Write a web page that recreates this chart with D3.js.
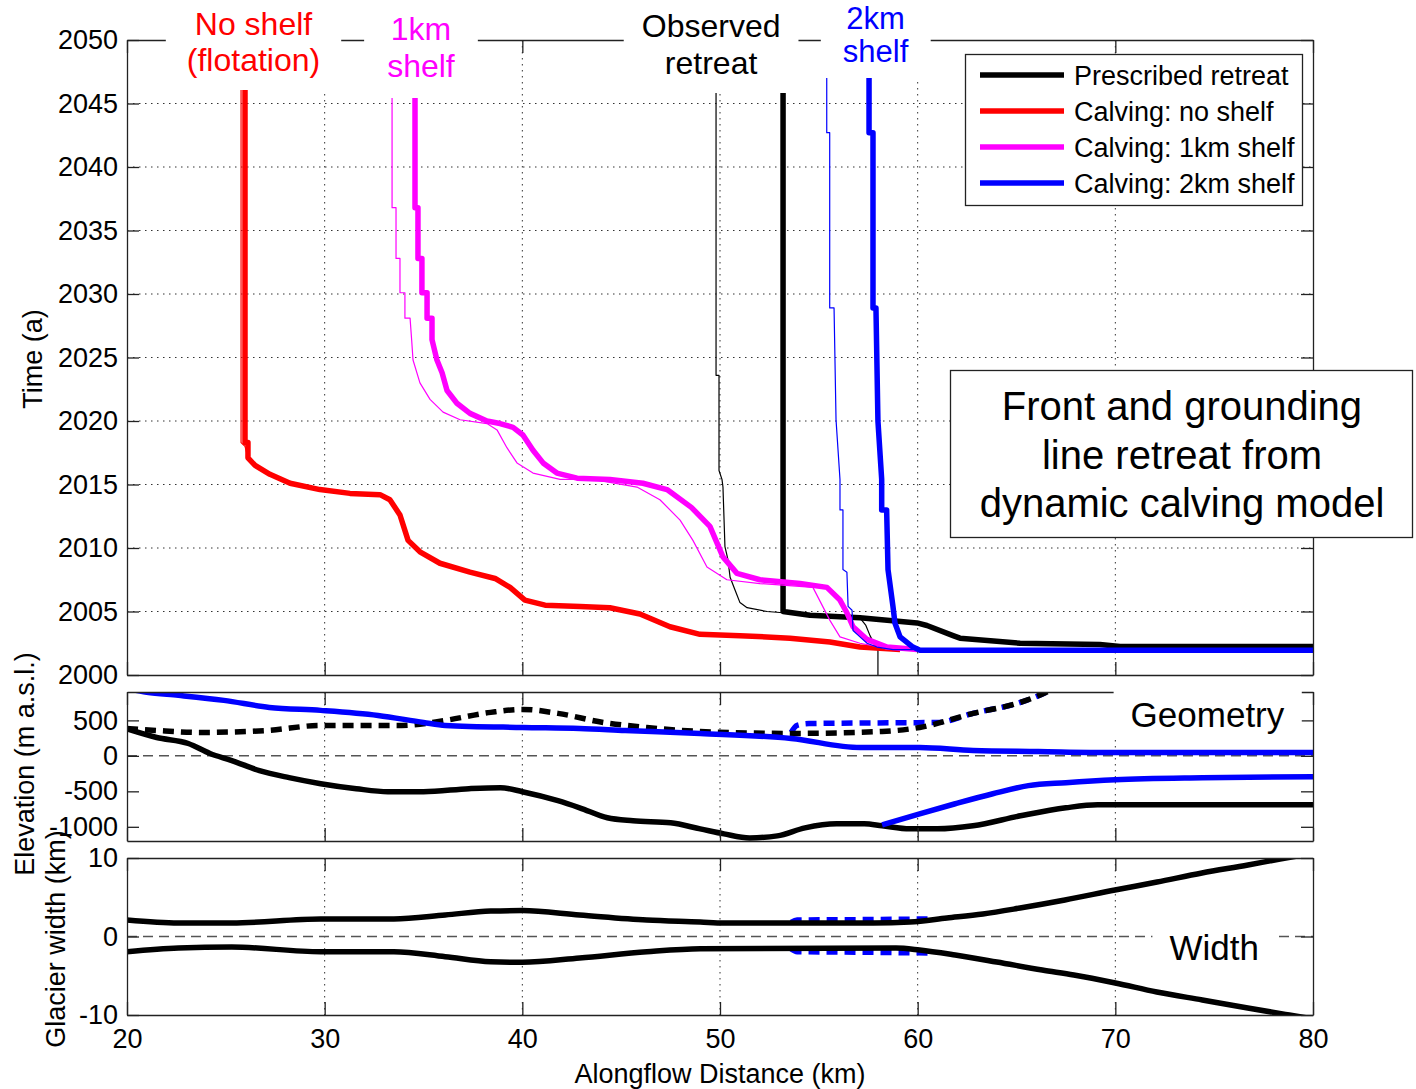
<!DOCTYPE html>
<html>
<head>
<meta charset="utf-8">
<script src="https://cdn.jsdelivr.net/npm/d3@7"></script>
<style>
  body { margin: 0; background: #fff; }
  svg text { font-family: "Liberation Sans", Arial, Helvetica, sans-serif; }
</style>
</head>
<body>
<svg id="chart" width="1416" height="1089"></svg>
<script>
// ---- tick values ----
const xTicks = [20, 30, 40, 50, 60, 70, 80];
const timeTicks = [2000, 2005, 2010, 2015, 2020, 2025, 2030, 2035, 2040, 2045, 2050];
const elevTicks = [-1000, -500, 0, 500];
const widthTicks = [-10, 0, 10];

// ---- top panel: [distance km, year] ----
const observedRetreat = [[49.8,2050],[49.8,2023.6],[49.95,2023.6],[49.95,2016.1],[50.1,2015.4],[50.15,2014.8],[50.25,2010.1],[50.4,2009.1],[50.51,2007.7],[50.76,2006.7],[51.01,2005.7],[51.37,2005.3],[52.38,2005.0],[53.19,2004.9],[57.08,2004.5],[57.38,2003.9],[57.59,2003.1],[57.84,2002.3],[57.99,2002.0],[57.99,2000]];
const prescribedRetreat = [[53.19,2050],[53.19,2005.0],[54.55,2004.7],[57.08,2004.5],[59.97,2004.1],[60.47,2003.9],[61.79,2003.1],[62.14,2002.9],[65.18,2002.5],[69.22,2002.4],[70.24,2002.25],[80,2002.25]];
const noShelfGrounding = [[25.77,2050],[25.77,2018.3],[25.97,2018.0],[26.12,2017.1],[26.48,2016.5]];
const noShelfFront = [[25.97,2050],[25.97,2018.3],[26.12,2018.3],[26.12,2017.1],[26.48,2016.5],[27.23,2015.8],[28.25,2015.1],[29.76,2014.6],[31.28,2014.3],[32.8,2014.2],[33.3,2013.8],[33.81,2012.6],[34.22,2010.6],[34.82,2009.7],[35.83,2008.8],[37.35,2008.1],[38.62,2007.6],[39.38,2006.9],[40.13,2005.9],[41.15,2005.5],[42.92,2005.4],[44.43,2005.3],[45.95,2004.8],[47.47,2003.8],[48.99,2003.2],[51.01,2003.1],[53.54,2002.9],[55.56,2002.6],[57.08,2002.2],[59.11,2002.0]];
const shelf1Grounding = [[33.41,2050],[33.41,2036.8],[33.61,2036.8],[33.61,2032.8],[33.81,2032.8],[33.81,2030.1],[34.06,2030.1],[34.06,2028.1],[34.32,2028.1],[34.4,2026.4],[34.47,2024.8],[34.82,2023.0],[35.33,2021.7],[35.99,2020.7],[36.85,2020.1],[38.21,2019.8],[38.72,2019.3],[39.22,2017.9],[39.73,2016.7],[40.54,2015.9],[41.91,2015.4],[43.57,2015.4],[45.8,2014.8],[46.96,2013.8],[47.98,2012.2],[48.63,2010.6],[49.34,2008.5],[50.35,2007.5],[52.02,2007.2],[54.7,2006.9],[55.56,2004.3],[56.07,2003.0],[57.08,2002.5],[58.45,2002.1],[59.97,2002.0]];
const shelf1Front = [[34.57,2050],[34.57,2036.8],[34.72,2036.8],[34.72,2032.8],[34.92,2032.8],[34.92,2030.1],[35.18,2030.1],[35.18,2028.1],[35.43,2028.1],[35.43,2026.4],[35.68,2024.8],[35.94,2023.8],[36.19,2022.4],[36.69,2021.4],[37.35,2020.6],[38.21,2020.0],[38.87,2019.8],[39.53,2019.5],[40.03,2018.9],[40.54,2017.7],[41.05,2016.7],[41.75,2015.9],[42.77,2015.5],[44.43,2015.4],[46.1,2015.1],[47.32,2014.6],[48.55,2013.2],[49.49,2011.7],[50.15,2009.3],[50.86,2008.0],[52.02,2007.5],[54.05,2007.2],[55.41,2006.9],[56.07,2005.9],[56.42,2004.9],[56.73,2003.8],[57.44,2002.8],[58.45,2002.2],[59.97,2002.0]];
const shelf2Grounding = [[55.4,2050],[55.4,2042.7],[55.55,2042.7],[55.55,2028.9],[55.77,2028.9],[55.87,2020.1],[56.07,2015.4],[56.07,2013.0],[56.22,2013.0],[56.22,2008.3],[56.42,2008.1],[56.48,2005.4],[56.68,2005.1],[56.73,2003.5],[57.08,2003.0],[57.44,2002.5],[57.94,2002.2],[58.75,2002.0],[59.76,2002.0]];
const shelf2Front = [[57.54,2050],[57.54,2042.7],[57.74,2042.7],[57.74,2028.9],[57.89,2028.9],[57.99,2020],[58.18,2015.4],[58.18,2013.0],[58.43,2013.0],[58.5,2008.3],[58.75,2005.4],[58.85,2004.1],[59.11,2003.0],[59.76,2002.2],[60.12,2001.95],[80,2001.95]];

// ---- geometry panel: [distance km, elevation m] ----
const bedElevation = [[20,380],[21.5,259],[23.1,174],[24.2,33],[25.3,-66],[26.7,-208],[28.2,-307],[29.8,-392],[31.6,-463],[33.2,-505],[35,-505],[37.3,-463],[38.9,-449],[40,-505],[41.8,-632],[42.9,-732],[44.3,-873],[45.6,-916],[47.5,-944],[49,-1029],[50.2,-1099],[51.5,-1156],[52.9,-1128],[54.3,-1015],[55.9,-958],[57.3,-958],[58.2,-986],[59.6,-1029],[61,-1029],[62.8,-986],[65.2,-845],[67.5,-732],[69.1,-689],[80,-689]];
const initialSurface = [[20,386],[21.5,358],[23.7,330],[27.1,358],[29.8,429],[33.9,429],[36.1,500],[38.4,613],[40,655],[41.8,599],[44.1,471],[46.3,400],[49,344],[53.6,316],[58.2,344],[60.1,400],[62.8,599],[65.2,754],[66.5,896],[68,1150]];
const shelfSurfaceStart = [[53.6,330],[53.9,430],[54.5,455],[57,462],[60,468],[61,470],[62.8,599],[65.2,754],[66.5,896],[68,1150]];
const finalSurface = [[20,950],[21,896],[22.6,853],[24.9,782],[27.2,683],[29.8,641],[32.7,570],[35,471],[36.1,429],[40,400],[42.9,386],[45.2,358],[49,316],[53.6,245],[57.1,117],[60.1,117],[62.8,75],[66.1,61],[69.8,47],[80,47]];
const shelfBase = [[58.2,-972],[60.1,-817],[61.9,-675],[63.8,-534],[65.6,-420],[67.5,-378],[70,-336],[74.4,-307],[80,-293]];

// ---- width panel: [distance km, half-width km] ----
const widthNorth = [[20,2.1],[22.6,1.72],[25.3,1.72],[29.8,2.23],[33.5,2.23],[36.1,2.74],[38.4,3.25],[40,3.3],[42.9,2.74],[46.3,2.1],[49,1.85],[50.2,1.72],[57.74,1.72],[59.61,1.85],[61.48,2.36],[63.3,2.87],[65.18,3.63],[67.45,4.65],[69.98,5.92],[72.11,6.94],[74.38,8.09],[76.71,9.11],[78.33,9.87],[80,10.6]];
const widthSouth = [[20,-1.94],[22.6,-1.46],[25.3,-1.34],[29.8,-1.94],[33.5,-1.94],[36.1,-2.57],[38.4,-3.21],[40,-3.29],[42.9,-2.74],[46.3,-1.94],[49,-1.55],[58.9,-1.46],[60.1,-1.72],[61.9,-2.36],[64,-3.25],[66.3,-4.27],[67.9,-4.9],[70,-5.92],[72.1,-7.07],[74.4,-8.09],[76.7,-9.11],[78.8,-10],[80,-10.5]];
const shelfWidthNorth = [[53.6,1.8],[53.9,2.1],[57,2.15],[60.5,2.23]];
const shelfWidthSouth = [[53.6,-1.6],[53.9,-1.94],[57,-2.0],[60.5,-2.1]];

// ---- legend ----
const legendLabels = ["Prescribed retreat", "Calving: no shelf", "Calving: 1km shelf", "Calving: 2km shelf"];
const legendColors = ["#000000", "#ff0000", "#ff00ff", "#0000ff"];

const svg = d3.select("#chart");
const left = 127, right = 1313;
const x = d3.scaleLinear().domain([20, 80]).range([left, right]);
const yTime = d3.scaleLinear().domain([2000, 2050]).range([675, 40]);
const yElev = d3.scaleLinear().domain([-1200, 900]).range([841, 692]);
const yWidth = d3.scaleLinear().domain([-10, 10]).range([1015, 858]);

const THICK = 5.5, THIN = 1.2;

// clip paths per panel
const defs = svg.append("defs");
function makeClip(id, ys) {
  const [yb, yt] = ys.range();
  defs.append("clipPath").attr("id", id).append("rect")
    .attr("x", left).attr("y", yt).attr("width", right - left).attr("height", yb - yt);
}
makeClip("clipTime", yTime);
makeClip("clipElev", yElev);
makeClip("clipWidth", yWidth);

// dotted grid
function drawGrid(ys, hTicks) {
  const [yb, yt] = ys.range();
  const g = svg.append("g");
  g.selectAll("line.v").data(xTicks.slice(1, -1)).join("line")
    .attr("x1", d => x(d)).attr("x2", d => x(d))
    .attr("y1", yt).attr("y2", yb)
    .attr("stroke", "#333").attr("stroke-width", 1)
    .attr("stroke-dasharray", "1.5,4.5");
  g.selectAll("line.h").data(hTicks).join("line")
    .attr("x1", left).attr("x2", right)
    .attr("y1", d => ys(d)).attr("y2", d => ys(d))
    .attr("stroke", "#333").attr("stroke-width", 1)
    .attr("stroke-dasharray", "1.5,4.5");
}
drawGrid(yTime, timeTicks.slice(1, -1));
drawGrid(yElev, []);
drawGrid(yWidth, []);

// zero lines
function zeroLine(ys) {
  svg.append("line")
    .attr("x1", left).attr("x2", right)
    .attr("y1", ys(0)).attr("y2", ys(0))
    .attr("stroke", "#555").attr("stroke-width", 1.5)
    .attr("stroke-dasharray", "10,6");
}
zeroLine(yElev);
zeroLine(yWidth);

// series
function drawSeries(g, data, ys, color, width, dash, smooth) {
  const line = d3.line().x(d => x(d[0])).y(d => ys(d[1]))
    .curve(smooth ? d3.curveMonotoneX : d3.curveLinear);
  g.append("path").datum(data)
    .attr("d", line)
    .attr("fill", "none")
    .attr("stroke", color)
    .attr("stroke-width", width)
    .attr("stroke-linejoin", "round")
    .attr("stroke-dasharray", dash || null);
}

const gTime = svg.append("g").attr("clip-path", "url(#clipTime)");
drawSeries(gTime, observedRetreat, yTime, "#000", THIN);
drawSeries(gTime, prescribedRetreat, yTime, "#000", THICK);
drawSeries(gTime, noShelfGrounding, yTime, "#ff0000", THIN);
drawSeries(gTime, noShelfFront, yTime, "#ff0000", THICK);
drawSeries(gTime, shelf1Grounding, yTime, "#ff00ff", THIN);
drawSeries(gTime, shelf1Front, yTime, "#ff00ff", THICK);
drawSeries(gTime, shelf2Grounding, yTime, "#0000ff", THIN);
drawSeries(gTime, shelf2Front, yTime, "#0000ff", THICK);

const gElev = svg.append("g").attr("clip-path", "url(#clipElev)");
drawSeries(gElev, shelfSurfaceStart, yElev, "#0000ff", THICK, "11,7", true);
drawSeries(gElev, initialSurface, yElev, "#000", THICK, "11,7", true);
drawSeries(gElev, bedElevation, yElev, "#000", THICK, null, true);
drawSeries(gElev, finalSurface, yElev, "#0000ff", THICK, null, true);
drawSeries(gElev, shelfBase, yElev, "#0000ff", THICK, null, true);

const gWidth = svg.append("g").attr("clip-path", "url(#clipWidth)");
drawSeries(gWidth, shelfWidthNorth, yWidth, "#0000ff", THICK, "11,7", true);
drawSeries(gWidth, shelfWidthSouth, yWidth, "#0000ff", THICK, "11,7", true);
drawSeries(gWidth, widthNorth, yWidth, "#000", THICK, null, true);
drawSeries(gWidth, widthSouth, yWidth, "#000", THICK, null, true);

// axes frames with inward ticks on all four sides
function styleAxis(a) {
  a.attr("font-family", '"Liberation Sans", Arial, Helvetica, sans-serif').attr("font-size", 27);
  a.selectAll("path.domain").attr("stroke", "#222").attr("stroke-width", 1.3);
  a.selectAll(".tick line").attr("stroke", "#222").attr("stroke-width", 1.3);
  a.selectAll(".tick text").attr("fill", "#000");
}
function drawFrame(ys, yTicks, showX) {
  const [yb, yt] = ys.range();
  const g = svg.append("g");
  g.append("g").attr("transform", `translate(${left},0)`)
    .call(d3.axisLeft(ys).tickValues(yTicks).tickSize(-12).tickSizeOuter(0).tickPadding(9).tickFormat(d => String(d)))
    .call(styleAxis);
  g.append("g").attr("transform", `translate(${right},0)`)
    .call(d3.axisRight(ys).tickValues(yTicks).tickSize(-12).tickSizeOuter(0).tickFormat(""))
    .call(styleAxis);
  g.append("g").attr("transform", `translate(0,${yb})`)
    .call(d3.axisBottom(x).tickValues(xTicks).tickSize(-13).tickSizeOuter(0).tickPadding(14).tickFormat(showX ? (d => String(d)) : ""))
    .call(styleAxis);
  g.append("g").attr("transform", `translate(0,${yt})`)
    .call(d3.axisTop(x).tickValues(xTicks).tickSize(-13).tickSizeOuter(0).tickFormat(""))
    .call(styleAxis);
}
drawFrame(yTime, timeTicks, false);
drawFrame(yElev, elevTicks, false);
drawFrame(yWidth, widthTicks, true);

// axis titles
function yTitle(text, bx, cy) {
  svg.append("text")
    .attr("transform", `translate(${bx},${cy}) rotate(-90)`)
    .attr("text-anchor", "middle").attr("font-size", 27).attr("fill", "#000")
    .text(text);
}
yTitle("Time (a)", 42, 359);
yTitle("Elevation (m a.s.l.)", 34, 764);
yTitle("Glacier width (km)", 65, 939);
svg.append("text")
  .attr("x", (left + right) / 2).attr("y", 1083)
  .attr("text-anchor", "middle").attr("font-size", 27).attr("fill", "#000")
  .text("Alongflow Distance (km)");

// boxed text helper (white background)
function boxedText(lines, cx, baseline, size, color, lineGap, padX, padTop, padBottom, stroke) {
  const g = svg.append("g");
  const rect = g.append("rect").attr("fill", "#fff");
  const t = g.append("g");
  lines.forEach((s, i) => {
    t.append("text")
      .attr("x", cx).attr("y", baseline + i * lineGap)
      .attr("text-anchor", "middle").attr("font-size", size).attr("fill", color)
      .text(s);
  });
  const b = t.node().getBBox();
  rect.attr("x", b.x - padX).attr("y", padTop === null ? 0 : b.y - padTop)
    .attr("width", b.width + 2 * padX);
  const y0 = +rect.attr("y");
  rect.attr("height", (b.y + b.height + padBottom) - y0);
  if (stroke) rect.attr("stroke", stroke).attr("stroke-width", 1.3);
  return rect;
}

// top labels (white backgrounds cover the upper frame)
boxedText(["No shelf", "(flotation)"], x(26.4), 35, 32, "#ff0000", 36, 21, null, 12);
boxedText(["1km", "shelf"], x(34.87), 40, 32, "#ff00ff", 37, 23, null, 14);
boxedText(["Observed", "retreat"], x(49.55), 37, 32, "#000", 37, 18, null, 12);
boxedText(["2km", "shelf"], x(57.87), 29, 31, "#0000ff", 33, 22, null, 9);

// panel labels
boxedText(["Geometry"], x(74.66), 727, 35, "#000", 0, 17, 6, 2);
boxedText(["Width"], x(75.0), 960, 35, "#000", 0, 17, 4, 4);

// legend
const legend = svg.append("g");
legend.append("rect")
  .attr("x", 965.5).attr("y", 54.5).attr("width", 337).attr("height", 151)
  .attr("fill", "#fff").attr("stroke", "#222").attr("stroke-width", 1.3);
legendLabels.forEach((lab, i) => {
  const yy = 75 + i * 36;
  legend.append("line")
    .attr("x1", 980).attr("x2", 1064).attr("y1", yy).attr("y2", yy)
    .attr("stroke", legendColors[i]).attr("stroke-width", THICK);
  legend.append("text")
    .attr("x", 1074).attr("y", yy + 9.5)
    .attr("font-size", 27).attr("fill", "#000")
    .text(lab);
});

// description box
const note = svg.append("g");
note.append("rect")
  .attr("x", 950.5).attr("y", 370.5).attr("width", 462).attr("height", 167)
  .attr("fill", "#fff").attr("stroke", "#222").attr("stroke-width", 1.3);
["Front and grounding", "line retreat from", "dynamic calving model"].forEach((s, i) => {
  note.append("text")
    .attr("x", 1182).attr("y", 420 + i * 48.5)
    .attr("text-anchor", "middle").attr("font-size", 40).attr("fill", "#000")
    .text(s);
});
</script>
</body>
</html>
